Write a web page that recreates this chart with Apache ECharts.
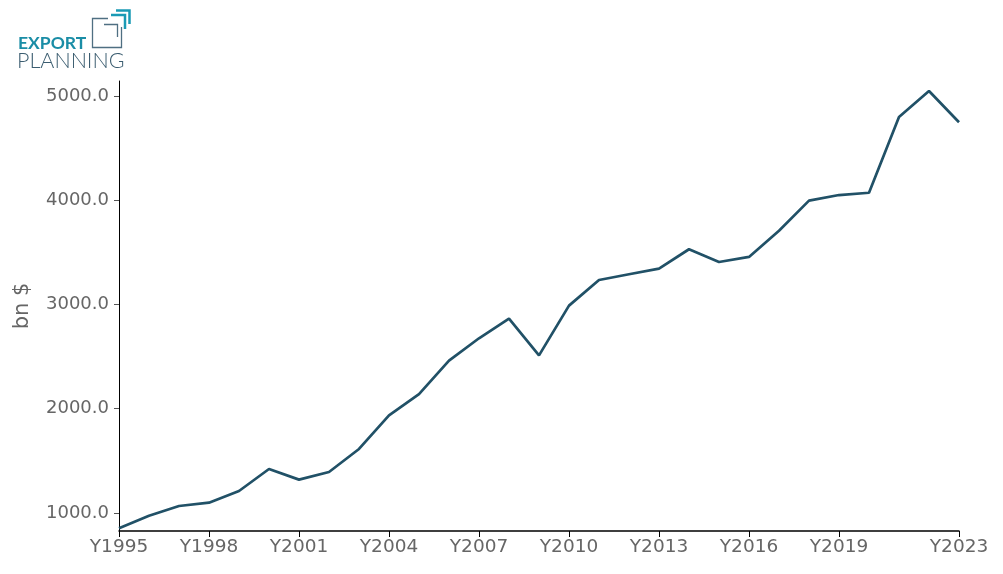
<!DOCTYPE html>
<html>
<head>
<meta charset="utf-8">
<script src="https://cdn.jsdelivr.net/npm/echarts@6/dist/echarts.min.js"></script>
<style>html,body{margin:0;padding:0;background:#fff}#c{width:1003px;height:574px}</style>
</head>
<body>
<div id="c"></div>
<script>
var years = ['Y1995','Y1996','Y1997','Y1998','Y1999','Y2000','Y2001','Y2002','Y2003','Y2004','Y2005','Y2006','Y2007','Y2008','Y2009','Y2010','Y2011','Y2012','Y2013','Y2014','Y2015','Y2016','Y2017','Y2018','Y2019','Y2020','Y2021','Y2022','Y2023'];
var values = [853,974,1067,1099,1211,1422,1320,1393,1614,1937,2141,2461,2676,2864,2512,2989,3235,3290,3344,3530,3408,3456,3708,3996,4050,4072,4798,5048,4748];
var yTicks = [1000,2000,3000,4000,5000];
var yAxisName = 'bn $';

function showX(i){ return i % 3 === 0 && i <= 24 || i === years.length - 1; }

var chart = echarts.init(document.getElementById('c'), null, {renderer:'canvas'});
chart.setOption({
  animation:false,
  grid:{left:119, top:81, right:44, bottom:43, containLabel:false},
  xAxis:{
    type:'category', data:years, boundaryGap:false,
    axisLine:{lineStyle:{color:'#000', width:1.5}},
    axisTick:{interval:function(i){return showX(i);}, length:6, lineStyle:{color:'#000'}},
    axisLabel:{interval:function(i){return showX(i);}, color:'#666', fontFamily:'DejaVu Sans', fontSize:18.5, margin:7}
  },
  yAxis:{
    type:'value', min:827, max:5144,
    name:yAxisName, nameLocation:'middle', nameGap:86, nameRotate:90,
    nameTextStyle:{color:'#666', fontFamily:'DejaVu Sans', fontSize:21},
    splitLine:{show:false},
    axisLine:{show:true, lineStyle:{color:'#000', width:1}},
    axisTick:{show:true, customValues:yTicks, length:5, lineStyle:{color:'#555'}},
    axisLabel:{customValues:yTicks, color:'#666', fontFamily:'DejaVu Sans', fontSize:18, margin:10,
      formatter:function(v){return v.toFixed(1);}}
  },
  series:[{type:'line', data:values, symbol:'none', lineStyle:{color:'#215167', width:2.7}}],
  graphic:[
    {type:'text', left:18, top:34, style:{text:'EXPORT', fontFamily:'Lato', fontWeight:'bold', fontSize:17.5, fill:'#1a8da6'}},
    {type:'text', left:17, top:50, style:{text:'PLANNING', fontFamily:'Lato', fontWeight:300, fontSize:21.5, fill:'#3b5d70'}},
    {type:'polyline', shape:{points:[[108,18.5],[92.5,18.5],[92.5,47.5],[121.5,47.5],[121.5,27]]}, style:{stroke:'#4f6f82', lineWidth:1.3, fill:null}},
    {type:'polyline', shape:{points:[[104,24.5],[117.5,24.5],[117.5,37]]}, style:{stroke:'#4f6f82', lineWidth:1.3, fill:null}},
    {type:'polyline', shape:{points:[[111,15],[125,15],[125,29]]}, style:{stroke:'#1a9ab5', lineWidth:2.5, fill:null}},
    {type:'polyline', shape:{points:[[116,10.5],[129.5,10.5],[129.5,24]]}, style:{stroke:'#1a9ab5', lineWidth:2.5, fill:null}}
  ]
});
</script>
</body>
</html>
